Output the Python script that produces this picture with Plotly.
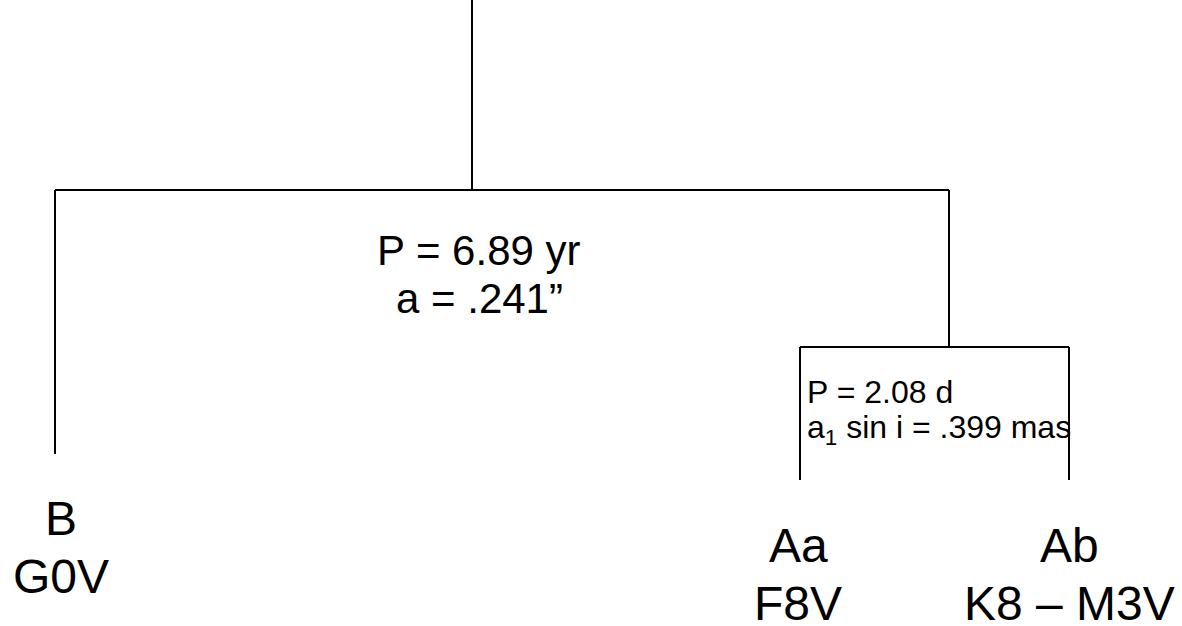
import plotly.graph_objects as go

# tree geometry (in page pixels, y grows downward)
root_x = 472
top_y, bar_y, sub_y = 0, 190, 347
b_x, a_x = 55, 949
aa_x, ab_x = 800, 1069
b_end, aa_end = 454, 480

# labels
star_names = ["B", "Aa", "Ab"]
spectral = ["G0V", "F8V", "K8 – M3V"]
label_x = [61, 798, 1069]
outer_orbit = ["P = 6.89 yr", "a = .241”"]
inner_orbit = ["P = 2.08 d", "a<sub>1</sub> sin i = .399 mas"]

xs = [root_x, root_x, None,
      b_x, a_x, None,
      b_x, b_x, None,
      a_x, a_x, None,
      aa_x, ab_x, None,
      aa_x, aa_x, None,
      ab_x, ab_x]
ys = [top_y, bar_y, None,
      bar_y, bar_y, None,
      bar_y, b_end, None,
      bar_y, sub_y, None,
      sub_y, sub_y, None,
      sub_y, aa_end, None,
      sub_y, aa_end]

fig = go.Figure()
fig.add_trace(go.Scatter(x=xs, y=ys, mode="lines",
                         line=dict(color="black", width=2),
                         hoverinfo="skip"))

font = "Liberation Sans, Arial, sans-serif"

# component labels
for i in range(len(star_names)):
    top = 518 if i == 0 else 545
    fig.add_annotation(x=label_x[i], y=top, text=star_names[i], showarrow=False,
                       xanchor="center", yanchor="middle",
                       font=dict(family=font, size=48, color="black"))
    fig.add_annotation(x=label_x[i], y=top + 58, text=spectral[i], showarrow=False,
                       xanchor="center", yanchor="middle",
                       font=dict(family=font, size=48, color="black"))

# outer orbit
for j, t in enumerate(outer_orbit):
    fig.add_annotation(x=479, y=250 + j * 48, text=t, showarrow=False,
                       xanchor="center", yanchor="middle",
                       font=dict(family=font, size=42, color="black"))

# inner orbit
for j, t in enumerate(inner_orbit):
    fig.add_annotation(x=805, y=392 + j * 37, text=t, showarrow=False,
                       xanchor="left", yanchor="middle",
                       font=dict(family=font, size=32, color="black"))

fig.update_layout(
    width=1182, height=626,
    margin=dict(l=0, r=0, t=0, b=0),
    plot_bgcolor="white", paper_bgcolor="white",
    showlegend=False,
    xaxis=dict(range=[0, 1182], visible=False, fixedrange=True),
    yaxis=dict(range=[626, 0], visible=False, fixedrange=True),
)

# the page body has a default margin; drop it so the figure fills the window
fig.write_html("out.html", config={"displayModeBar": False},
               post_script="document.body.style.margin='0';")
